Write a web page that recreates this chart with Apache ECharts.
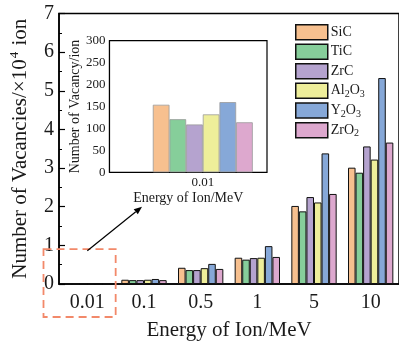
<!DOCTYPE html>
<html>
<head>
<meta charset="utf-8">
<script src="https://cdn.jsdelivr.net/npm/echarts@6/dist/echarts.min.js"></script>
<style>
  html, body { margin: 0; padding: 0; background: #fff; }
  #chart { width: 399px; height: 346px; }
</style>
</head>
<body>
<div id="chart"></div>
<script>
// Ion energies (MeV)
const energies = ['0.01', '0.1', '0.5', '1', '5', '10'];
const materials = ['SiC', 'TiC', 'ZrC', 'Al2O3', 'Y2O3', 'ZrO2'];

// Vacancies per ion, in units of 10^4
const sic   = [0.0154, 0.11, 0.42, 0.68, 2.02, 3.01];
const tic   = [0.0121, 0.10, 0.36, 0.63, 1.88, 2.88];
const zrc   = [0.0109, 0.10, 0.36, 0.67, 2.25, 3.56];
const al2o3 = [0.0132, 0.11, 0.41, 0.68, 2.11, 3.22];
const y2o3  = [0.0160, 0.13, 0.52, 0.98, 3.38, 5.33];
const zro2  = [0.0114, 0.10, 0.39, 0.70, 2.33, 3.66];

// Vacancies per ion at 0.01 MeV (detail view)
const lowEnergy = ['0.01'];
const lowSic = [154], lowTic = [121], lowZrc = [109];
const lowAl2o3 = [132], lowY2o3 = [160], lowZro2 = [114];

const mainValues = [sic, tic, zrc, al2o3, y2o3, zro2];
const lowValues = [lowSic, lowTic, lowZrc, lowAl2o3, lowY2o3, lowZro2];
const colors = ['#F7C08F', '#86CE9A', '#B5A3CF', '#EEEE9A', '#86A8D8', '#DDA8CE'];

const serif = 'Liberation Serif';
const ink = '#1a1a1a';

const chart = echarts.init(document.getElementById('chart'), null, { renderer: 'canvas' });

const mainSeries = materials.map((m, i) => ({
  type: 'bar',
  name: m,
  xAxisIndex: 0,
  yAxisIndex: 0,
  data: mainValues[i],
  barGap: '0%',
  barCategoryGap: '20%',
  itemStyle: { color: colors[i], borderColor: '#111', borderWidth: 1 },
  z: 3
}));

const detailSeries = materials.map((m, i) => ({
  type: 'bar',
  name: m,
  xAxisIndex: 2,
  yAxisIndex: 2,
  data: lowValues[i],
  barGap: '0%',
  barCategoryGap: '16.7%',
  itemStyle: { color: colors[i], borderColor: '#9a9a9a', borderWidth: 0.8 },
  z: 3
}));

// chemical formulas with subscripts
function formula(name) {
  return name.replace(/(\d)/g, '{sub|$1}');
}

chart.setOption({
  animation: false,
  backgroundColor: '#fff',
  textStyle: { fontFamily: serif },
  grid: [
    { left: 58, right: -1, top: 13.5, bottom: 57, show: true,
      borderColor: '#000', borderWidth: 1.5, backgroundColor: 'transparent' },
    { left: 109.5, top: 40.7, width: 157.5, height: 131.6, show: true,
      borderColor: '#000', borderWidth: 1.2, backgroundColor: '#fff', z: 1 },
    { left: 142.8, top: 40.7, width: 120, height: 131.6 }
  ],
  legend: {
    orient: 'vertical',
    left: 290,
    top: 19,
    itemWidth: 32,
    itemHeight: 15,
    itemGap: 3,
    icon: 'rect',
    data: materials,
    itemStyle: { borderColor: '#111', borderWidth: 1.5 },
    formatter: formula,
    textStyle: {
      fontFamily: serif, fontSize: 14, color: ink, padding: [0, 0, 0, -2],
      rich: { sub: { fontFamily: serif, fontSize: 10, color: ink, padding: [7, 0, 0, 0] } }
    }
  },
  xAxis: [
    {
      type: 'category', gridIndex: 0, data: energies, position: 'bottom',
      axisLine: { lineStyle: { color: '#000', width: 1.5 } },
      axisTick: { inside: true, length: 4, lineStyle: { color: '#000', width: 1.2 } },
      axisLabel: { fontFamily: serif, fontSize: 20, color: ink, margin: 9 },
      name: 'Energy of Ion/MeV', nameLocation: 'middle', nameGap: 36,
      nameTextStyle: { fontFamily: serif, fontSize: 21, color: ink },
      splitLine: { show: false }
    },
    {
      type: 'value', gridIndex: 1, min: 0, max: 1,
      axisLine: { show: false }, axisTick: { show: false },
      axisLabel: { show: false }, splitLine: { show: false },
      name: 'Energy of Ion/MeV', nameLocation: 'middle', nameGap: 19,
      nameTextStyle: { fontFamily: serif, fontSize: 14, color: ink }
    },
    {
      type: 'category', gridIndex: 2, data: lowEnergy,
      axisLine: { show: false },
      axisTick: { inside: true, length: 3, lineStyle: { color: '#000', width: 1 } },
      axisLabel: { fontFamily: serif, fontSize: 13, color: ink, margin: 4 },
      splitLine: { show: false }
    },
    {
      type: 'category', gridIndex: 0, data: energies, position: 'bottom',
      axisLine: { show: false },
      axisTick: { inside: true, alignWithLabel: true, length: 7, lineStyle: { color: '#000', width: 1.2 } },
      axisLabel: { show: false }, splitLine: { show: false }
    }
  ],
  yAxis: [
    {
      type: 'value', gridIndex: 0, min: 0, max: 7, interval: 1,
      axisLine: { show: true, lineStyle: { color: '#000', width: 1.5 } },
      axisTick: { show: true, inside: true, length: 6, lineStyle: { color: '#000', width: 1.2 } },
      minorTick: { show: true, splitNumber: 2, length: 3, lineStyle: { color: '#000', width: 1 } },
      axisLabel: { fontFamily: serif, fontSize: 20, color: ink, margin: 5 },
      splitLine: { show: false },
      name: 'Number of Vacancies/×10{sup|4} ion', nameLocation: 'middle', nameGap: 27,
      nameTextStyle: {
        fontFamily: serif, fontSize: 21, color: ink, lineHeight: 24,
        rich: { sup: { fontFamily: serif, fontSize: 13, color: ink, lineHeight: 24, verticalAlign: 'top', padding: [0, 1, 0, 1] } }
      }
    },
    {
      type: 'value', gridIndex: 1, min: 0, max: 300, interval: 50,
      axisLine: { show: true, lineStyle: { color: '#000', width: 1.2 } },
      axisTick: { show: true, inside: true, length: 4, lineStyle: { color: '#000', width: 1 } },
      minorTick: { show: true, splitNumber: 2, length: 2, lineStyle: { color: '#000', width: 0.8 } },
      axisLabel: { fontFamily: serif, fontSize: 13, color: ink, margin: 4 },
      splitLine: { show: false },
      name: 'Number of Vacancy/ion', nameLocation: 'middle', nameGap: 26,
      nameTextStyle: { fontFamily: serif, fontSize: 14, color: ink }
    },
    {
      type: 'value', gridIndex: 2, min: 0, max: 300, show: false,
      splitLine: { show: false }
    }
  ],
  series: mainSeries.concat(detailSeries)
});

// Dashed frame around the 0.01 MeV group and an arrow pointing to the detail view
const mainGrid = { xAxisIndex: 0, yAxisIndex: 0 };
const c0 = chart.convertToPixel(mainGrid, ['0.01', 0]);
const c1 = chart.convertToPixel(mainGrid, ['0.1', 0]);
const boxRight = (c0[0] + c1[0]) / 2;
const boxTop = chart.convertToPixel(mainGrid, ['0.01', 0.9])[1];
const boxLeft = 43.5;
const boxBottom = c0[1] + 33;

const start = chart.convertToPixel(mainGrid, ['0.01', 0.86]);
const tip = [142, 206.7];
const dx = tip[0] - start[0], dy = tip[1] - start[1];
const len = Math.hypot(dx, dy);
const ux = dx / len, uy = dy / len;
const headLen = 8, headHalf = 3.3;
const bx = tip[0] - ux * headLen, by = tip[1] - uy * headLen;

chart.setOption({
  graphic: [
    {
      type: 'rect', z: 100, silent: true,
      shape: { x: boxLeft, y: boxTop, width: boxRight - boxLeft, height: boxBottom - boxTop },
      style: { fill: 'none', stroke: '#F2896A', lineWidth: 1.8, lineDash: [8, 5] }
    },
    {
      type: 'line', z: 100, silent: true,
      shape: { x1: start[0], y1: start[1], x2: bx, y2: by },
      style: { stroke: '#000', lineWidth: 1.2 }
    },
    {
      type: 'polygon', z: 100, silent: true,
      shape: { points: [
        tip,
        [bx - uy * headHalf, by + ux * headHalf],
        [bx + uy * headHalf, by - ux * headHalf]
      ] },
      style: { fill: '#000' }
    }
  ]
});
</script>
</body>
</html>
